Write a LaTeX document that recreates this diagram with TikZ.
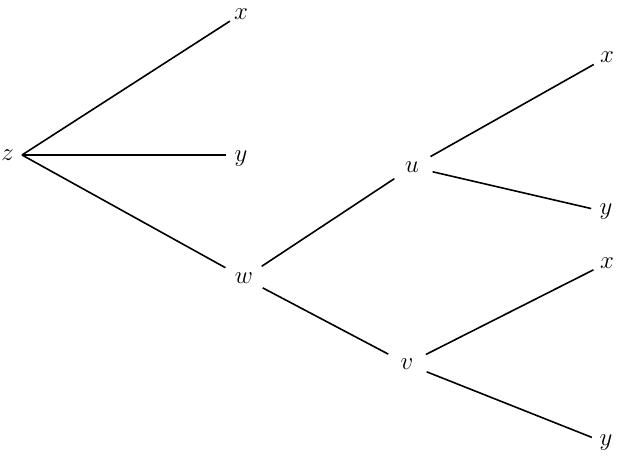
\documentclass[tikz,border=0pt]{standalone}
\usepackage{tikz}
\usetikzlibrary{positioning}

\begin{document}
\begin{tikzpicture}[x=1pt,y=1pt,
    every node/.style={font=\fontsize{29}{34}\selectfont},
    inner/.style={circle,inner sep=0pt,minimum size=42pt},
    leaf/.style={circle,inner sep=0pt,minimum size=30pt},
    branch/.style={line width=1.6pt}]
  \useasboundingbox (0,0) rectangle (617,460);
  % root
  \coordinate (z) at (22,305);
  \node[anchor=east,inner sep=0pt] (zlab) at (14,305) {$z$};
  % first level
  \node[leaf,minimum size=26pt] (x1) at (241,446) {$x$};
  \node[leaf] (y1) at (241,301) {$y$};
  \node[inner] (w) at (244,182) {$w$};
  % second level
  \node[inner] (u) at (412,293) {$u$};
  \node[inner] (v) at (407,96) {$v$};
  % leaves on the right
  \node[leaf] (x2) at (607,403) {$x$};
  \node[leaf] (y2) at (606,248) {$y$};
  \node[leaf] (x3) at (607,197) {$x$};
  \node[leaf] (y3) at (606,17) {$y$};
  % branches
  \draw[branch] (z) -- (x1);
  \draw[branch] (z) -- (z -| y1.west);
  \draw[branch] (z) -- (w);
  \draw[branch] (w) -- (u);
  \draw[branch] (w) -- (v);
  \draw[branch] (u) -- (x2);
  \draw[branch] (u) -- (y2);
  \draw[branch] (v) -- (x3);
  \draw[branch] (v) -- (y3);
\end{tikzpicture}
\end{document}
